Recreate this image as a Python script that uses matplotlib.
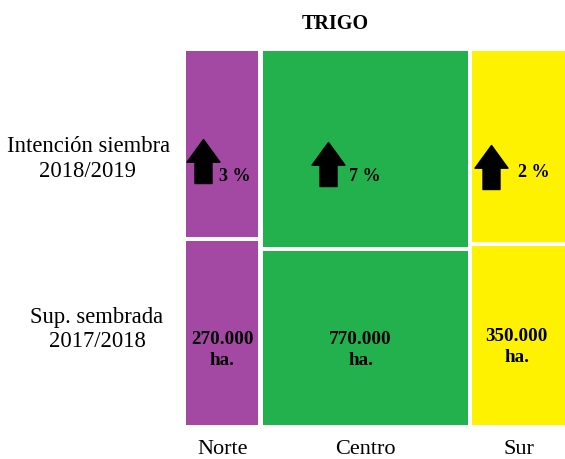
import numpy as np
import matplotlib
matplotlib.use('Agg')
import matplotlib.pyplot as plt
from matplotlib.path import Path
from matplotlib.transforms import offset_copy

plt.rcParams['font.family'] = ['Liberation Serif', 'DejaVu Serif']

# datos
regiones = ['Norte', 'Centro', 'Sur']
sup_sembrada = [270, 770, 350]          # miles de ha, campaña 2017/2018
intencion_pct = [3, 7, 2]               # variación intención 2018/2019
alto_intencion = [0.503, 0.528, 0.515]  # parte superior de cada columna
colores = ['#A349A4', '#22B14C', '#FFF200']

# layout (pixeles)
W, H = 565, 459
px_per_k = 0.2665
gap_x = 4.5 / px_per_k
gap_y = 4 / 373.7

fig = plt.figure(figsize=(W / 100, H / 100), dpi=100)
total = sum(sup_sembrada) + gap_x * (len(sup_sembrada) - 1)
ax = fig.add_axes([186.3 / W, 34 / H, total * px_per_k / W, 373.7 / H])
ax.set_xlim(0, total)
ax.set_ylim(0, 1)
ax.axis('off')

lefts = np.concatenate([[0], np.cumsum(np.array(sup_sembrada) + gap_x)[:-1]])
centros = lefts + np.array(sup_sembrada) / 2
alto_inf = (1 - gap_y) * (1 - np.array(alto_intencion))

# bloques inferiores (superficie sembrada) y superiores (intención)
ax.bar(lefts, alto_inf, width=sup_sembrada, align='edge', color=colores, linewidth=0)
ax.bar(lefts, 1 - alto_inf - gap_y, bottom=alto_inf + gap_y, width=sup_sembrada,
       align='edge', color=colores, linewidth=0)

# flecha hacia arriba como marcador
verts = [(0, 22), (16.5, -0.7), (8.5, -0.7), (8.5, -22), (-8.5, -22),
         (-8.5, -0.7), (-16.5, -0.7), (0, 22)]
flecha = Path(verts, [Path.MOVETO] + [Path.LINETO] * 6 + [Path.CLOSEPOLY])

flecha_dx = [-18.8, -37.5, -28]
flecha_y = [0.7065, 0.6976, 0.6912]
pct_dx = [12.7, -0.7, 14.3]
pct_y = [0.6663, 0.6663, 0.6751]
val_dx = [0, -4.7, -2.3]
val_y = [0.2275, 0.2275, 0.236]

for i in range(len(regiones)):
    tr = offset_copy(ax.transData, fig=fig, x=flecha_dx[i], y=0, units='dots')
    ax.plot(centros[i], flecha_y[i], marker=flecha, markersize=31.7,
            color='black', linestyle='none', transform=tr)
    tr = offset_copy(ax.transData, fig=fig, x=pct_dx[i], y=0, units='dots')
    ax.text(centros[i], pct_y[i], f'{intencion_pct[i]} %', transform=tr,
            ha='center', va='center', fontsize=13, fontweight='bold')
    tr = offset_copy(ax.transData, fig=fig, x=val_dx[i], y=0, units='dots')
    ax.text(centros[i], val_y[i], f'{sup_sembrada[i] * 1000:,}'.replace(',', '.'),
            transform=tr, ha='center', va='center', fontsize=13.7, fontweight='bold')
    ax.text(centros[i], val_y[i] - 0.056, 'ha.', transform=tr,
            ha='center', va='center', fontsize=13.7, fontweight='bold')
    ax.text(centros[i], -0.077, regiones[i], transform=ax.get_xaxis_transform(),
            ha='center', va='baseline', fontsize=16)

# titulo y etiquetas de filas
fig.text(335 / W, 1 - 29.3 / H, 'TRIGO', ha='center', va='baseline',
         fontsize=14.5, fontweight='bold')
fig.text(89 / W, 1 - 151.7 / H, 'Intención siembra', ha='center', va='baseline', fontsize=16.3)
fig.text(87 / W, 1 - 176.7 / H, '2018/2019', ha='center', va='baseline', fontsize=16.3)
fig.text(97 / W, 1 - 323.3 / H, 'Sup. sembrada', ha='center', va='baseline', fontsize=16.3)
fig.text(97.5 / W, 1 - 346.7 / H, '2017/2018', ha='center', va='baseline', fontsize=16.3)

fig.savefig('out.png', dpi=100)
